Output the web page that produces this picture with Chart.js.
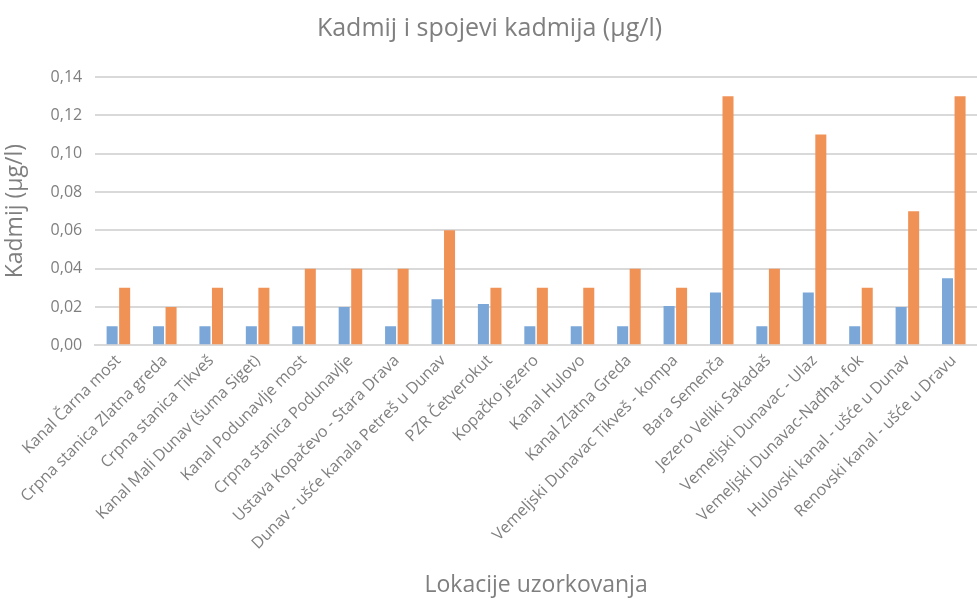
<!DOCTYPE html>
<html>
<head>
<meta charset="utf-8">
<script src="https://cdn.jsdelivr.net/npm/chart.js@4.4.1/dist/chart.umd.min.js"></script>
<style>
    html, body { margin: 0; padding: 0; background: #fff; }
    #wrap { width: 977px; height: 601px; position: relative; }
</style>
</head>
<body>
<div id="wrap"><canvas id="chart"></canvas></div>
<script>
// Sampling locations
const locations = [
    'Kanal Čarna most',
    'Crpna stanica Zlatna greda',
    'Crpna stanica Tikveš',
    'Kanal Mali Dunav (šuma Siget)',
    'Kanal Podunavlje most',
    'Crpna stanica Podunavlje',
    'Ustava Kopačevo - Stara Drava',
    'Dunav - ušće kanala Petreš u Dunav',
    'PZR Četverokut',
    'Kopačko jezero',
    'Kanal Hulovo',
    'Kanal Zlatna Greda',
    'Vemeljski Dunavac Tikveš - kompa',
    'Bara Semenča',
    'Jezero Veliki Sakadaš',
    'Vemeljski Dunavac - Ulaz',
    'Vemeljski Dunavac-Nađhat fok',
    'Hulovski kanal - ušće u Dunav',
    'Renovski kanal - ušće u Dravu'
];

// Blue series
const seriesBlue = [0.01, 0.01, 0.01, 0.01, 0.01, 0.02, 0.01, 0.024, 0.0215, 0.01,
    0.01, 0.01, 0.0205, 0.0275, 0.01, 0.0275, 0.01, 0.02, 0.035];

// Orange series
const seriesOrange = [0.03, 0.02, 0.03, 0.03, 0.04, 0.04, 0.04, 0.06, 0.03, 0.03,
    0.03, 0.04, 0.03, 0.13, 0.04, 0.11, 0.03, 0.07, 0.13];

const yTicks = [0, 0.02, 0.04, 0.06, 0.08, 0.10, 0.12, 0.14];

const textColor = '#7f7f7f';
const fontFamily = "'Open Sans', 'DejaVu Sans', sans-serif";

new Chart(document.getElementById('chart'), {
    type: 'bar',
    data: {
        labels: locations,
        datasets: [{
            label: 'Serija 1',
            data: seriesBlue,
            backgroundColor: '#7ba7d8',
            categoryPercentage: 0.54,
            barPercentage: 0.88
        }, {
            label: 'Serija 2',
            data: seriesOrange,
            backgroundColor: '#f09256',
            categoryPercentage: 0.54,
            barPercentage: 0.88
        }]
    },
    options: {
        responsive: true,
        maintainAspectRatio: false,
        animation: false,
        layout: {
            padding: { left: 2, right: 0, top: 2, bottom: 2 }
        },
        plugins: {
            legend: { display: false },
            tooltip: { enabled: false },
            title: {
                display: true,
                text: 'Kadmij i spojevi kadmija (µg/l)',
                color: textColor,
                font: { family: fontFamily, size: 25, weight: 'normal' },
                padding: { top: 12, bottom: 33 }
            }
        },
        scales: {
            x: {
                grid: { display: false, drawTicks: false },
                border: { color: '#d9d9d9', width: 2 },
                ticks: {
                    color: textColor,
                    font: { family: fontFamily, size: 16 },
                    maxRotation: 45,
                    minRotation: 45,
                    autoSkip: false,
                    padding: 6
                },
                title: {
                    display: true,
                    text: 'Lokacije uzorkovanja',
                    color: textColor,
                    font: { family: fontFamily, size: 23 },
                    padding: { top: 12, bottom: 0 }
                }
            },
            y: {
                min: 0,
                max: 0.14,
                afterBuildTicks: function(axis) {
                    axis.ticks = yTicks.map(v => ({ value: v }));
                },
                grid: { color: '#d9d9d9', lineWidth: 2, drawTicks: false },
                border: { display: false },
                ticks: {
                    color: textColor,
                    font: { family: fontFamily, size: 16 },
                    padding: 13,
                    callback: function(value) {
                        return value.toFixed(2).replace('.', ',');
                    }
                },
                title: {
                    display: true,
                    text: 'Kadmij (µg/l)',
                    color: textColor,
                    font: { family: fontFamily, size: 23 },
                    padding: { top: 0, bottom: 8 }
                }
            }
        }
    }
});
</script>
</body>
</html>
